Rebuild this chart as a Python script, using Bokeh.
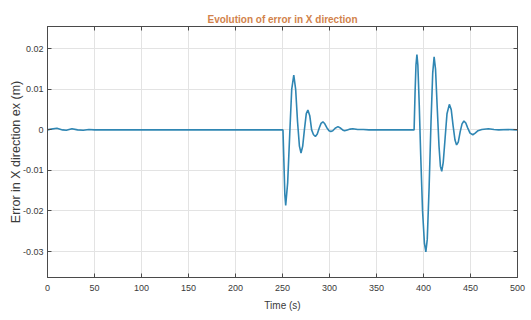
from bokeh.plotting import figure
from bokeh.models import LinearAxis, FixedTicker, Range1d, ColumnDataSource, CustomLabelingPolicy
from bokeh.embed import file_html
from bokeh.resources import INLINE

# ---- data ----
time_s = [0, 4, 10, 16, 20, 26, 32, 38, 44, 50, 250,
          250.5, 251.5, 252.5, 253.4, 255.5, 257.7, 259.8, 262, 264, 266, 268, 269.7,
          271.5, 273.3, 275.3, 277, 279, 281, 283, 285, 287, 289, 291, 293, 295, 297,
          299.5, 301.4, 303.5, 306, 309, 312, 314, 316, 319, 322, 324.8, 330, 336, 342,
          390, 391, 392, 393, 394, 395.5, 397, 399, 401, 402.5, 404, 406, 408, 409.8,
          411.3, 412.8, 414.5, 416.5, 418, 419.4, 421, 423, 425, 427.5, 429.5, 431.5,
          433.5, 435.2, 437, 439, 441, 443, 445, 447, 449.5, 452.5, 455, 458, 462, 469,
          475, 480, 490, 500]
error_x = [0, 0.0002, 0.0004, 0.0, -0.0001, 0.0003, 0.0, -0.0001, 0.0001, 0.0, 0.0,
           0.0, -0.008, -0.016, -0.0186, -0.013, -0.001, 0.010, 0.0135, 0.010, 0.002, -0.004, -0.0057,
           -0.004, 0.0, 0.0040, 0.0049, 0.0035, 0.0, -0.0012, -0.0016, -0.0010, 0.0004, 0.0016, 0.0020, 0.0015, 0.0006,
           -0.0002, -0.0004, -0.0002, 0.0004, 0.0008, 0.0004, 0.0, -0.0002, 0.0, 0.0002, 0.0003, 0.0001, 0.0001, 0.0,
           0.0, 0.009, 0.016, 0.0186, 0.016, 0.006, -0.006, -0.020, -0.028, -0.0301, -0.027, -0.014, 0.002, 0.014,
           0.0180, 0.015, 0.006, -0.004, -0.009, -0.0102, -0.008, -0.002, 0.004, 0.0063, 0.005, 0.001,
           -0.0025, -0.0037, -0.003, -0.0005, 0.0015, 0.0022, 0.0017, 0.0005, -0.0008, -0.0012, -0.0008, -0.0002, 0.0001, 0.0003,
           0.0001, 0.0, 0.0001, 0.0]

x_ticks = [0, 50, 100, 150, 200, 250, 300, 350, 400, 450, 500]
y_ticks = [-0.03, -0.02, -0.01, 0, 0.01, 0.02]
y_tick_labels = ["-0.03", "-0.02", "-0.01", "0", "0.01", "0.02"]

FONT = "Liberation Sans"
TXT = "#3a3a3a"

p = figure(width=531, height=320, output_backend="svg", toolbar_location=None,
           x_range=Range1d(0, 500), y_range=Range1d(-0.0364, 0.0255),
           title="Evolution of error in X direction",
           min_border_left=47, min_border_right=14, min_border_top=26, min_border_bottom=43)

p.title.align = "center"
p.title.text_color = "#d2824b"
p.title.text_font = FONT
p.title.text_font_size = "10px"
p.title.text_font_style = "bold"
p.title.standoff = 4

p.line(x="t", y="e", source=ColumnDataSource(dict(t=time_s, e=error_x)),
       line_color="#2f86b3", line_width=1.6)

p.outline_line_color = "#4a4a4a"
p.outline_line_width = 1
p.grid.grid_line_color = "#e3e3e3"
p.grid.grid_line_width = 1

p.xaxis.ticker = FixedTicker(ticks=x_ticks)
p.yaxis.ticker = FixedTicker(ticks=y_ticks)
p.yaxis.major_label_overrides = {v: s for v, s in zip(y_ticks, y_tick_labels)}
p.xaxis.axis_label = "Time (s)"
p.yaxis.axis_label = "Error in X direction ex (m)"

for ax in (p.xaxis[0], p.yaxis[0]):
    ax.major_tick_in = 4
    ax.major_tick_out = 0
    ax.minor_tick_in = 0
    ax.minor_tick_out = 0
    ax.axis_line_color = "#4a4a4a"
    ax.major_tick_line_color = "#4a4a4a"
    ax.major_label_text_font = FONT
    ax.major_label_text_font_size = "9px"
    ax.major_label_text_color = TXT
    ax.axis_label_text_font = FONT
    ax.axis_label_text_font_style = "normal"
    ax.axis_label_text_color = TXT

p.xaxis.major_label_standoff = 7
p.xaxis.axis_label_standoff = 6
p.xaxis.axis_label_text_font_size = "10px"
p.yaxis.major_label_standoff = 4
p.yaxis.axis_label_standoff = -3
p.yaxis.axis_label_text_font_size = "12.5px"

no_labels = CustomLabelingPolicy(
    code="for (let i = 0; i < indices.size; i++) { indices.unset(i) } return indices")
for side, tick in (("above", x_ticks), ("right", y_ticks)):
    ax = LinearAxis(ticker=FixedTicker(ticks=tick), major_label_policy=no_labels)
    ax.major_tick_in = 4
    ax.major_tick_out = 0
    ax.minor_tick_in = 0
    ax.minor_tick_out = 0
    ax.major_label_standoff = 0
    ax.major_label_text_alpha = 0
    ax.axis_line_color = "#4a4a4a"
    ax.major_tick_line_color = "#4a4a4a"
    p.add_layout(ax, side)

open("out.html", "w").write(file_html(p, INLINE))
